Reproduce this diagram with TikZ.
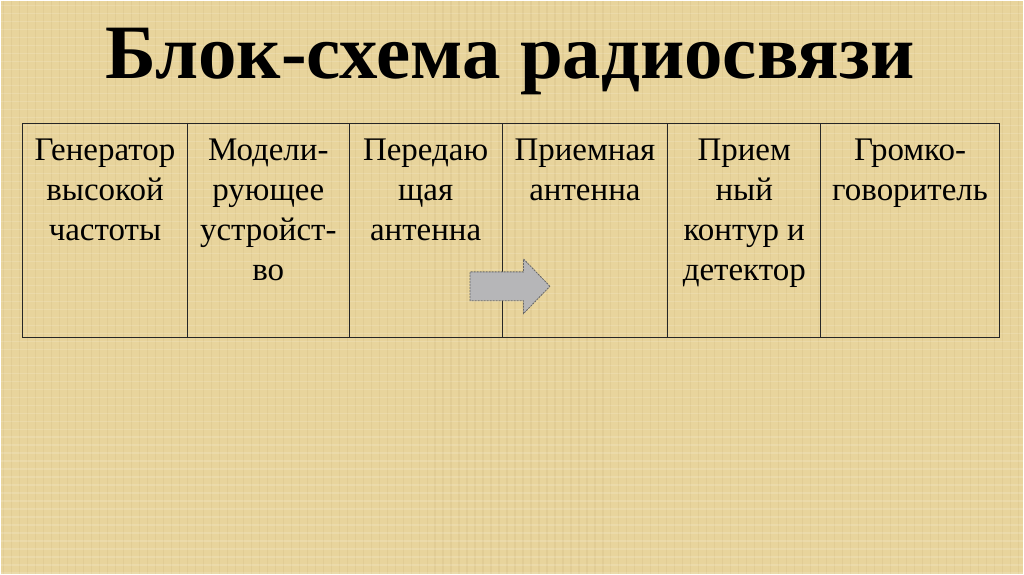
\documentclass[tikz,border=0pt]{standalone}
\usepackage{fontspec}
\setmainfont{Liberation Serif}
\usetikzlibrary{positioning}
\usetikzlibrary{shapes.arrows}
\definecolor{papyrus}{RGB}{232,212,156}
\definecolor{papyrusdark}{RGB}{196,172,112}
\definecolor{arrowgrey}{RGB}{182,182,184}

\begin{document}
\begin{tikzpicture}[x=1pt,y=-1pt,
    cell/.style={draw=black!85,line width=1pt,minimum height=214pt,inner sep=0pt,outer sep=0pt,anchor=north west},
    celltext/.style={inner sep=0pt,align=center,font=\fontsize{33}{40}\selectfont},
    blockarrow/.style={single arrow,draw=black!60,line width=0.8pt,dash pattern=on 2pt off 1pt,
      fill=arrowgrey,minimum height=80pt,inner xsep=0pt,inner ysep=14pt,outer sep=0pt,
      single arrow head extend=13pt,single arrow tip angle=92}]
    \fill[papyrus] (0,0) rectangle (1024,574);
    \foreach \x in {3,11,...,1024}
      \draw[papyrusdark,line width=1.2pt,opacity=0.18] (\x,0) -- (\x,574);
    \foreach \y in {5,13,...,574}
      \draw[white,line width=1.2pt,opacity=0.15] (0,\y) -- (1024,\y);
    \useasboundingbox (0,0) rectangle (1024,574);
    \node[anchor=base,font=\fontsize{77}{84}\selectfont\bfseries] (title) at (510,78)
      {Блок-схема радиосвязи};
    % table cells
    \node[cell,minimum width=165pt] (gen) at (22,123) {};
    \node[cell,minimum width=162pt] (mod) at (gen.north east) {};
    \node[cell,minimum width=153pt] (trans) at (mod.north east) {};
    \node[cell,minimum width=166pt] (recv) at (trans.north east) {};
    \node[cell,minimum width=153pt] (det) at (recv.north east) {};
    \node[cell,minimum width=179pt] (spk) at (det.north east) {};
    % cell texts
    \node[celltext,below=15pt of gen.north] (gentext) {Генератор\\высокой\\частоты};
    \node[celltext,below=15pt of mod.north] (modtext) {Модели-\\рующее\\устройст-\\во};
    \node[celltext,below=15pt of trans.north] (transtext) {Передаю\\щая\\антенна};
    \node[celltext,below=15pt of recv.north] (recvtext) {Приемная\\антенна};
    \node[celltext,below=15pt of det.north] (dettext) {Прием\\ный\\контур и\\детектор};
    \node[celltext,below=15pt of spk.north] (spktext) {Громко-\\говоритель};
    % arrow across the border
    \node[blockarrow] (flow) at ([xshift=1pt]trans.east |- 0,286) {};
\end{tikzpicture}
\end{document}
